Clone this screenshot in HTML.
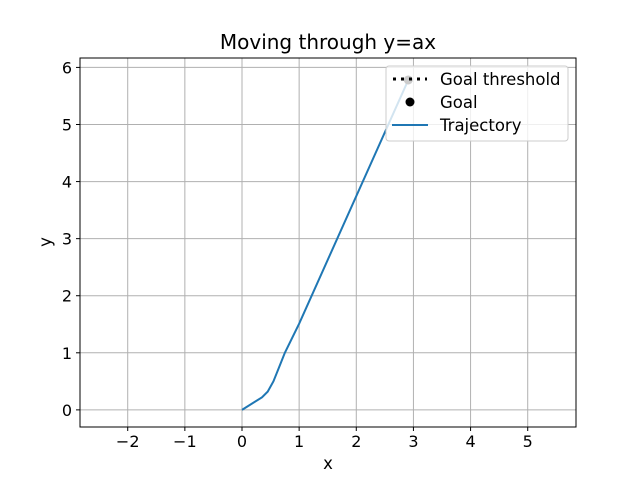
<!DOCTYPE html>
<html><head><meta charset="utf-8"><style>
body{margin:0;background:#fff;font-family:"DejaVu Sans","Liberation Sans",sans-serif}
svg{display:block}
</style></head><body>
<svg id="c" width="640" height="480" xmlns="http://www.w3.org/2000/svg"></svg>
<script>
const xTicks=[-2,-1,0,1,2,3,4,5];
const yTicks=[0,1,2,3,4,5,6];
const trajX=[0,0.35,0.45,0.55,0.65,0.75,1,2.91];
const trajY=[0,0.22,0.32,0.5,0.75,1.0,1.51,5.78];
const goalX=[2.91];
const goalY=[5.78];
const L=80,R=576,T=58,B=427;
const xmin=-2.835,xmax=5.845,ymin=-0.3,ymax=6.165;
const sx=v=>L+(v-xmin)/(xmax-xmin)*(R-L);
const sy=v=>B-(v-ymin)/(ymax-ymin)*(B-T);
const svg=document.getElementById('c');
const NS='http://www.w3.org/2000/svg';
function mk(t,a,p){const e=document.createElementNS(NS,t);for(const k in a)e.setAttribute(k,a[k]);(p||svg).appendChild(e);return e;}
const grid=mk('g',{});


xTicks.forEach(v=>{const x=sx(v);
mk('line',{x1:x,x2:x,y1:T,y2:B,stroke:'#b0b0b0','stroke-width':1},grid);
mk('line',{x1:x,x2:x,y1:B,y2:B+4,stroke:'#000'});
const t=mk('text',{x:x,y:B+20,'text-anchor':'middle','font-size':16});
t.textContent=v<0?'\u2212'+(-v):v;

});
yTicks.forEach(v=>{const y=sy(v);
mk('line',{x1:L,x2:R,y1:y,y2:y,stroke:'#b0b0b0','stroke-width':1},grid);
mk('line',{x1:L-4,x2:L,y1:y,y2:y,stroke:'#000'});
const t=mk('text',{x:L-8,y:y+6,'text-anchor':'end','font-size':16});
t.textContent=v;

});
const pts=trajX.map((x,i)=>sx(x)+','+sy(trajY[i])).join(' ');
const line=mk('polyline',{points:pts,fill:'none',stroke:'#1f77b4','stroke-width':2});


goalX.forEach((g,i)=>{const c=mk('circle',{cx:sx(g),cy:sy(goalY[i]),r:4.5,fill:'#000'});

});
const fr=mk('rect',{x:L,y:T,width:R-L,height:B-T,fill:'none',stroke:'#000','stroke-width':1});


const lg=mk('g',{});


mk('rect',{x:386,y:66,width:182,height:75,rx:3,fill:'#fff','fill-opacity':0.8,stroke:'#ccc'},lg);
mk('line',{x1:393,x2:427,y1:79,y2:79,stroke:'#000','stroke-width':3,'stroke-dasharray':'3,5'},lg);
mk('circle',{cx:410,cy:102,r:4.5,fill:'#000'},lg);
mk('line',{x1:392,x2:428,y1:125,y2:125,stroke:'#1f77b4','stroke-width':2},lg);
[['Goal threshold',85],['Goal',108],['Trajectory',131]].forEach(([s,y])=>{const t=mk('text',{x:440,y:y,'font-size':16.5},lg);t.textContent=s;

});
const ti=mk('text',{x:328,y:49,'text-anchor':'middle','font-size':20});ti.textContent='Moving through y=ax';


const xl=mk('text',{x:328,y:469,'text-anchor':'middle','font-size':16.5});xl.textContent='x';


const yl=mk('text',{x:51,y:242,'text-anchor':'middle','font-size':16.5,transform:'rotate(-90 51 242)'});yl.textContent='y';


</script>
</body></html>
